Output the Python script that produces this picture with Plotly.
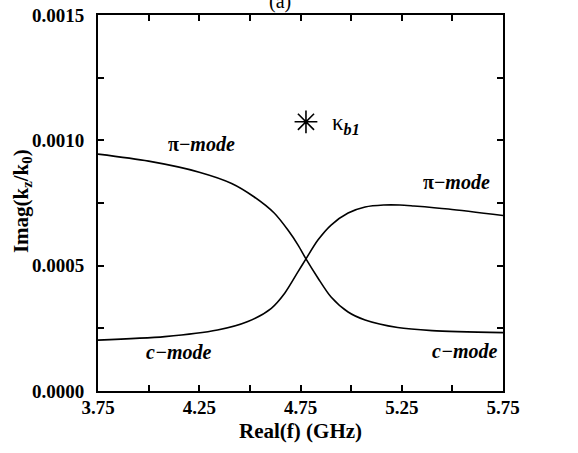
import plotly.graph_objects as go

# Data
freq_a = [3.75, 4.00, 4.25, 4.41, 4.52, 4.62, 4.688, 4.738, 4.777, 4.836, 4.901, 4.985, 5.069, 5.23, 5.40, 5.75]
imag_a = [0.000945, 0.000917, 0.000873, 0.000828, 0.000775, 0.000710, 0.000642, 0.000582, 0.000527,
          0.000451, 0.000375, 0.000315, 0.000283, 0.000253, 0.000241, 0.000233]

freq_b = [3.75, 4.08, 4.34, 4.49, 4.606, 4.672, 4.738, 4.777, 4.836, 4.901, 4.985, 5.069, 5.16, 5.24, 5.31, 5.48, 5.75]
imag_b = [0.000203, 0.000217, 0.000243, 0.000277, 0.000330, 0.000390, 0.000476, 0.000527, 0.000602,
          0.000662, 0.000710, 0.000734, 0.000742, 0.000742, 0.000738, 0.000726, 0.000700]

kappa_f = [4.777]
kappa_v = [0.001074]

x_ticks = [3.75, 4.25, 4.75, 5.25, 5.75]
x_ticklabels = ["3.75", "4.25", "4.75", "5.25", "5.75"]
y_ticks = [0.0, 0.0005, 0.0010, 0.0015]
y_ticklabels = ["0.0000", "0.0005", "0.0010", "0.0015"]

labels = [
    ("π−<i>mode</i>", 4.26, 0.000985),
    ("π−<i>mode</i>", 5.52, 0.000834),
    ("<i>c−mode</i>", 4.15, 0.000155),
    ("<i>c−mode</i>", 5.56, 0.000160),
]

SERIF = "Liberation Serif, Times New Roman, serif"

fig = go.Figure()
for fx, fy in [(freq_a, imag_a), (freq_b, imag_b)]:
    fig.add_trace(go.Scatter(x=fx, y=fy, mode="lines",
                             line=dict(color="black", width=1.6, shape="spline", smoothing=0.8),
                             showlegend=False, hoverinfo="skip"))
fig.add_trace(go.Scatter(x=kappa_f, y=kappa_v, mode="markers",
                         marker=dict(symbol="asterisk-open", size=19, color="black",
                                     line=dict(color="black", width=1.6)),
                         showlegend=False, hoverinfo="skip"))

for txt, fx, fy in labels:
    fig.add_annotation(x=fx, y=fy, text="<b>" + txt + "</b>", showarrow=False,
                       font=dict(family=SERIF, size=20, color="black"))

fig.add_annotation(x=kappa_f[0], y=kappa_v[0], text="κ<sub><b><i>b1</i></b></sub>", showarrow=False,
                   xanchor="left", xshift=24, yshift=-2,
                   font=dict(family=SERIF, size=23, color="black"))

fig.add_annotation(x=0.45, y=1, xref="paper", yref="paper", text="(a)", showarrow=False,
                   yanchor="bottom", yshift=0,
                   font=dict(family=SERIF, size=20, color="black"))

# axis titles
fig.add_annotation(x=-0.1877, y=0.505, xref="paper", yref="paper",
                   text="<b>Imag(k<sub>z</sub>/k<sub>0</sub>)</b>", textangle=-90, showarrow=False,
                   xanchor="center", yanchor="middle",
                   font=dict(family=SERIF, size=21, color="black"))
fig.add_annotation(x=0.5, y=-0.106, xref="paper", yref="paper",
                   text="<b>Real(f) (GHz)</b>", showarrow=False,
                   xanchor="center", yanchor="middle",
                   font=dict(family=SERIF, size=21, color="black"))

axis_common = dict(showgrid=False, zeroline=False, showline=True, linecolor="black", linewidth=2,
                   mirror="allticks", ticks="inside", ticklen=6, tickwidth=1.5, tickcolor="black",
                   automargin=False,
                   tickfont=dict(family=SERIF, size=19, color="black", weight="bold"))

fig.update_xaxes(range=[3.75, 5.75], tickmode="array", tickvals=x_ticks, ticktext=x_ticklabels,
                 minor=dict(dtick=0.25, tick0=3.75, ticks="inside", ticklen=6, tickwidth=1.5, tickcolor="black"),
                 ticklabelstandoff=-2,
                 **axis_common)
fig.update_yaxes(range=[0, 0.0015], tickmode="array", tickvals=y_ticks, ticktext=y_ticklabels,
                 minor=dict(dtick=0.00025, tick0=0, ticks="inside", ticklen=6, tickwidth=1.5, tickcolor="black"),
                 ticklabelstandoff=8,
                 **axis_common)

fig.update_layout(width=578, height=453, margin=dict(l=98, r=75, t=15, b=62),
                  paper_bgcolor="white", plot_bgcolor="white")

fig.write_html("out.html")
